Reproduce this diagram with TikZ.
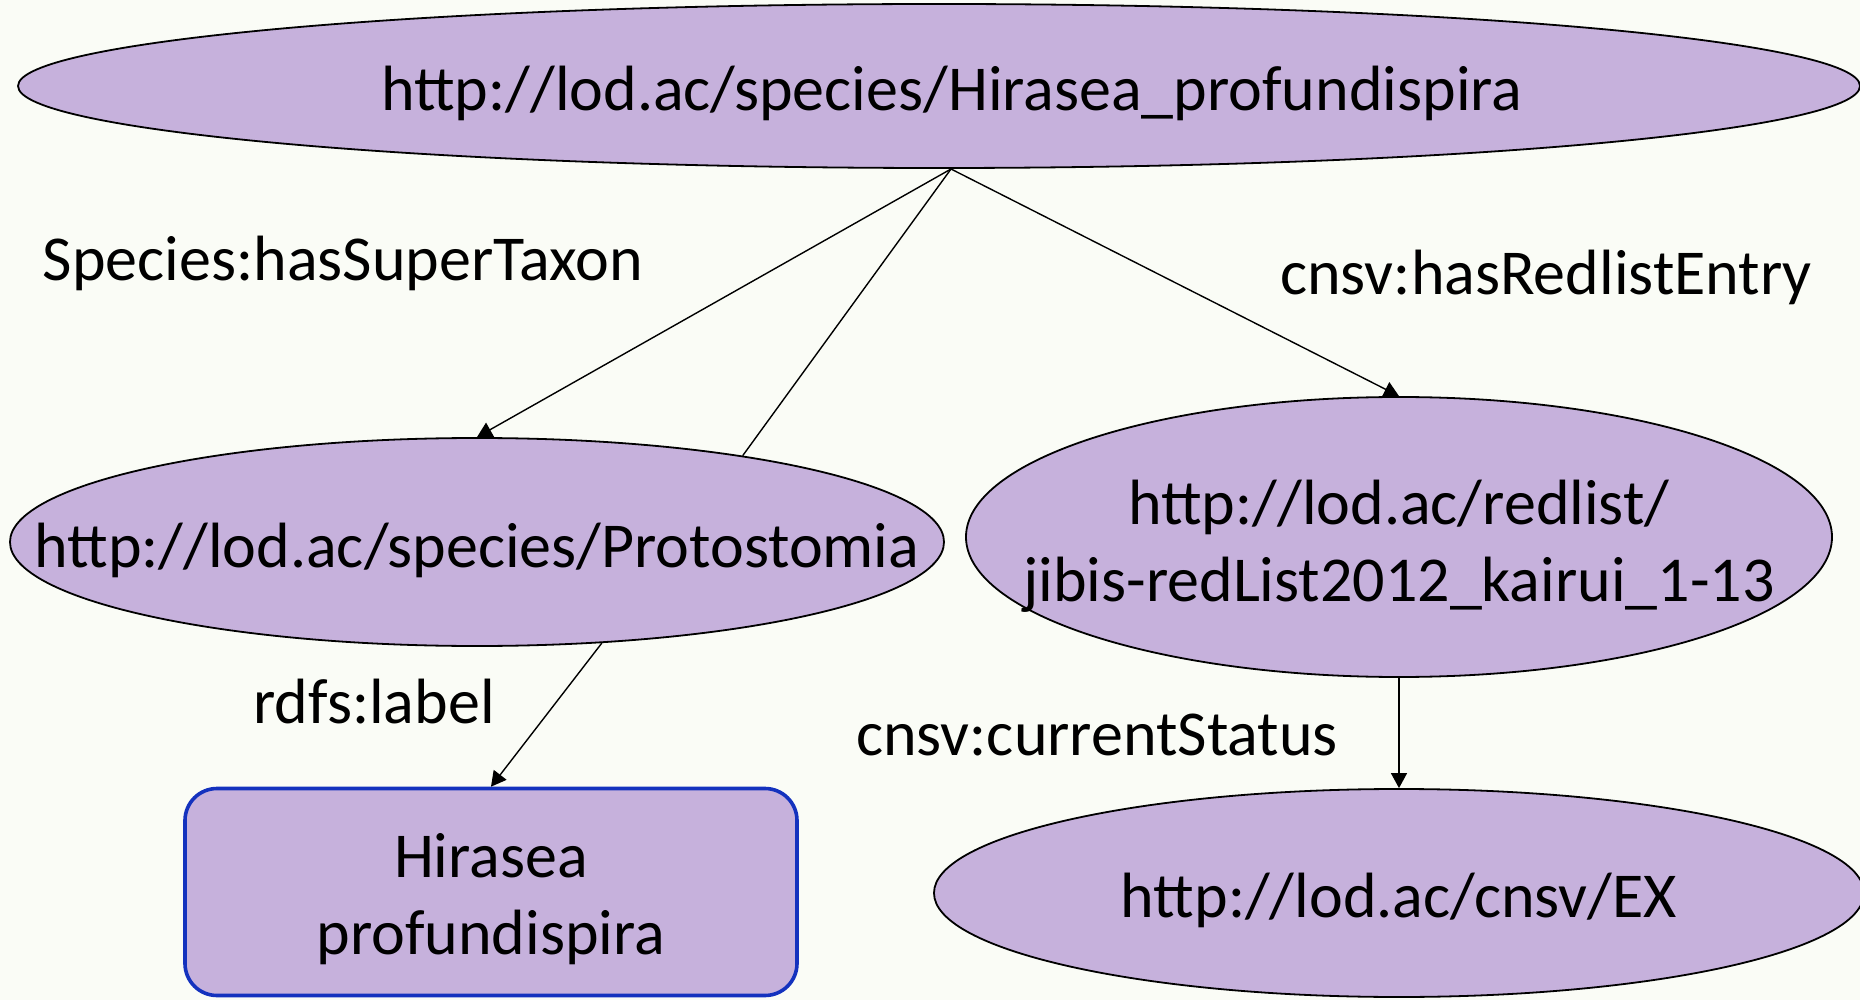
\documentclass[tikz,border=0pt]{standalone}
\usepackage{fontspec}
\setmainfont{Carlito}
\usetikzlibrary{shapes.geometric,arrows.meta}
\definecolor{bgc}{RGB}{250,252,246}
\definecolor{lav}{RGB}{198,177,220}
\definecolor{bluec}{RGB}{20,50,190}
\begin{document}
\begin{tikzpicture}[x=0.5pt,y=-0.5pt,
  ell/.style={ellipse,draw=black,fill=lav,line width=0.9pt,inner sep=0pt},
  txt/.style={font=\fontsize{32}{38.5}\selectfont,align=center,inner sep=0pt},
  conn/.style={line width=0.7pt,-{Triangle[length=7.5pt,width=8pt]}},
  plain/.style={line width=0.7pt}]
\fill[bgc] (0,0) rectangle (1860,1000);
\useasboundingbox (0,0) rectangle (1860,1000);
% nodes
\node[ell,minimum width=921pt,minimum height=82pt] (top) at (939,86) {};
\node[txt] (topT) at (952,93) {http://lod.ac/species/Hirasea\_profundispira};
\node[ell,minimum width=467pt,minimum height=104pt] (proto) at (477,542) {};
\node[txt] (protoT) at (477,550) {http://lod.ac/species/Protostomia};
\node[ell,minimum width=433pt,minimum height=140pt] (red) at (1399,537) {};
\node[txt] (redT) at (1399,546) {http://lod.ac/redlist/\\jibis-redList2012\_kairui\_1-13};
\node[ell,minimum width=465pt,minimum height=104pt] (ex) at (1399,893) {};
\node[txt] (exT) at (1399,900) {http://lod.ac/cnsv/EX};
\node[draw=bluec,fill=lav,line width=1.8pt,rounded corners=16pt,minimum width=306pt,minimum height=103.5pt,inner sep=0pt] (lab) at (491,892) {};
\node[txt] (labT) at (491,899) {Hirasea\\profundispira};
% edge labels
\node[txt] (l1) at (343,263) {Species:hasSuperTaxon};
\node[txt] (l2) at (1546,277) {cnsv:hasRedlistEntry};
\node[txt] (l3) at (374,702) {rdfs:label};
\node[txt] (l4) at (1097,735) {cnsv:currentStatus};
% connectors
\coordinate (s) at (951,169);
\draw[conn] (s) -- (proto.north);
\draw[plain] (s) -- (proto.18.6);
\draw[conn] (s) -- (red.north);
\draw[conn] (proto.-39.9) -- (lab.north);
\draw[conn] (red.south) -- (ex.north);
\end{tikzpicture}
\end{document}
